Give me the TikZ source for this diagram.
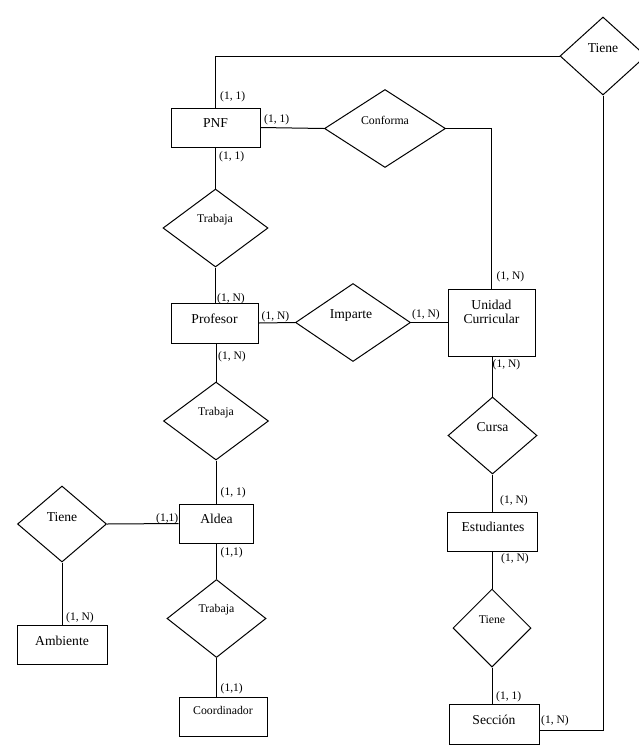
\documentclass[tikz,border=0pt]{standalone}
\usepackage{fontspec}
\setmainfont{Liberation Serif}
\usetikzlibrary{shapes.geometric}
\tikzset{
  every picture/.style={x=1pt,y=-1pt},
  conn/.style={draw, line width=1pt},
  entbox/.style={draw, line width=1pt, rectangle, inner sep=0pt, minimum width=#1},
  relbox/.style={draw, line width=1pt, diamond, inner sep=0pt, minimum width=#1, minimum height=78pt},
  bigtxt/.style={font=\fontsize{13.6}{15}\selectfont, inner sep=0pt},
  smalltxt/.style={font=\fontsize{11.8}{14}\selectfont, inner sep=0pt},
  card/.style={font=\fontsize{11.5}{13}\selectfont, inner sep=0pt, anchor=west}
}
\begin{document}
\begin{tikzpicture}
\useasboundingbox (0,0) rectangle (639,745);
% entities
\node[entbox=89pt, minimum height=39pt] (pnf) at (215.5,127.5) {};
\node[bigtxt] (pnft) at (215.5,123) {PNF};
\node[entbox=87pt, minimum height=40pt] (profesor) at (215,323) {};
\node[bigtxt] (profesort) at (214.5,319) {Profesor};
\node[entbox=87pt, minimum height=67pt] (uc) at (491.5,322.5) {};
\node[bigtxt, align=center] (uct) at (491.5,312) {Unidad\\[-1.5pt]Curricular};
\node[entbox=89.5pt, minimum height=39pt] (estudiantes) at (492.5,531.5) {};
\node[bigtxt] (estudiantest) at (493,526.5) {Estudiantes};
\node[entbox=90pt, minimum height=40pt] (seccion) at (494,724) {};
\node[bigtxt] (secciont) at (494,720) {Sección};
\node[entbox=74pt, minimum height=39pt] (aldea) at (216,523.5) {};
\node[bigtxt] (aldeat) at (216.5,518.5) {Aldea};
\node[entbox=90pt, minimum height=39pt] (ambiente) at (62,644.5) {};
\node[bigtxt] (ambientet) at (62,641) {Ambiente};
\node[entbox=88pt, minimum height=39pt] (coordinador) at (223,716.5) {};
\node[smalltxt] (coordinadort) at (223,710.5) {Coordinador};
% relationships
\node[relbox=86pt] (tiene1) at (603,56) {};
\node[bigtxt] (tiene1t) at (603,48) {Tiene};
\node[relbox=121pt] (conforma) at (385,128.5) {};
\node[smalltxt] (conformat) at (385,120.5) {Conforma};
\node[relbox=105pt] (trabaja1) at (215.5,228) {};
\node[smalltxt] (trabaja1t) at (215,219.5) {Trabaja};
\node[relbox=115pt] (imparte) at (353,322.5) {};
\node[bigtxt] (impartet) at (351,315) {Imparte};
\node[relbox=105pt] (trabaja2) at (216,421) {};
\node[smalltxt] (trabaja2t) at (216,413) {Trabaja};
\node[relbox=99pt] (trabaja3) at (216.5,618.5) {};
\node[smalltxt] (trabaja3t) at (216.5,610) {Trabaja};
\node[relbox=89pt, minimum height=77pt] (cursa) at (492.5,435.5) {};
\node[bigtxt] (cursat) at (492.5,427) {Cursa};
\node[relbox=89pt, minimum height=76pt] (tiene2) at (62,524) {};
\node[bigtxt] (tiene2t) at (62,517) {Tiene};
\node[relbox=78pt] (tiene3) at (492,628) {};
\node[smalltxt] (tiene3t) at (492,619.5) {Tiene};
% connectors
\coordinate (secr) at ([yshift=-6pt]seccion.east);
\draw[conn] (pnf.north) |- (tiene1.west);
\draw[conn] (tiene1.south) |- (secr);
\draw[conn] (pnf.east) -- (conforma.west);
\draw[conn] (conforma.east) -| (uc.north);
\draw[conn] (pnf.south) -- (trabaja1.north);
\draw[conn] (trabaja1.south) -- (trabaja1.south |- profesor.north);
\draw[conn] (profesor.east) -- (imparte.west);
\draw[conn] (imparte.east) -- (uc.west);
\draw[conn] (profesor.south -| trabaja2.north) -- (trabaja2.north);
\draw[conn] (trabaja2.south) -- (trabaja2.south |- aldea.north);
\draw[conn] (aldea.west) -- (tiene2.east);
\draw[conn] (tiene2.south) -- (ambiente.north);
\draw[conn] (aldea.south -| trabaja3.north) -- (trabaja3.north);
\draw[conn] (trabaja3.south) -- (trabaja3.south |- coordinador.north);
\draw[conn] (uc.south -| cursa.north) -- (cursa.north);
\draw[conn] (cursa.south) -- (cursa.south |- estudiantes.north);
\draw[conn] (estudiantes.south -| tiene3.north) -- (tiene3.north);
\draw[conn] (tiene3.south) -- (tiene3.south |- seccion.north);
% cardinalities
\node[card] (c1) at (220,97) {(1, 1)};
\node[card] (c2) at (264,120) {(1, 1)};
\node[card] (c3) at (219,157) {(1, 1)};
\node[card] (c4) at (217,299) {(1, N)};
\node[card] (c5) at (261.5,317) {(1, N)};
\node[card] (c6) at (218,357) {(1, N)};
\node[card] (c7) at (412,315) {(1, N)};
\node[card] (c8) at (496.5,277) {(1, N)};
\node[card] (c9) at (492.5,365) {(1, N)};
\node[card] (c10) at (500,501) {(1, N)};
\node[card] (c11) at (501,559) {(1, N)};
\node[card] (c12) at (220.5,493) {(1, 1)};
\node[card] (c13) at (156,519) {(1,1)};
\node[card] (c14) at (220.5,553) {(1,1)};
\node[card] (c15) at (66,618) {(1, N)};
\node[card] (c16) at (220.5,689) {(1,1)};
\node[card] (c17) at (496,697) {(1, 1)};
\node[card] (c18) at (541,720.5) {(1, N)};
\end{tikzpicture}
\end{document}
